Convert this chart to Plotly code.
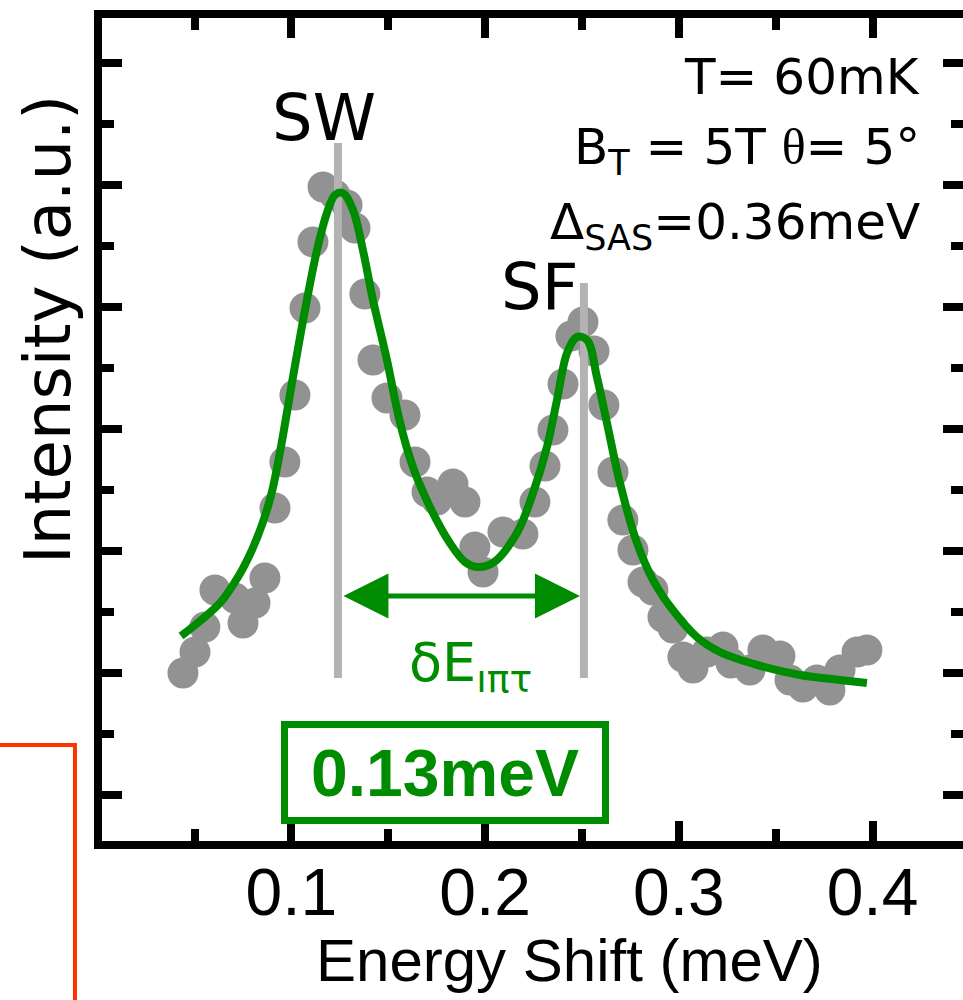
import plotly.graph_objects as go

# ---------------- data ----------------
energy = [0.0440, 0.0502, 0.0553, 0.0605, 0.0708, 0.0750, 0.0812, 0.0863, 0.0915, 0.0966,
          0.1018, 0.1070, 0.1111, 0.1163, 0.1225, 0.1287, 0.1328, 0.1379, 0.1421, 0.1493,
          0.1586, 0.1638, 0.1700, 0.1751, 0.1834, 0.1896, 0.1947, 0.1989, 0.2092, 0.2195,
          0.2257, 0.2309, 0.2350, 0.2402, 0.2443, 0.2505, 0.2562, 0.2613, 0.2660, 0.2711,
          0.2763, 0.2815, 0.2866, 0.2918, 0.2970, 0.3021, 0.3073, 0.3145, 0.3228, 0.3269,
          0.3367, 0.3434, 0.3522, 0.3574, 0.3641, 0.3713, 0.3780, 0.3832, 0.3920, 0.3971]
intensity = [1.000, 1.172, 1.377, 1.680, 1.615, 1.410, 1.574, 1.779, 2.352, 2.730,
             3.279, 3.992, 4.533, 4.984, 4.918, 4.836, 4.648, 4.107, 3.566, 3.254,
             3.115, 2.730, 2.484, 2.418, 2.549, 2.402, 2.033, 1.828, 2.156, 2.139,
             2.402, 2.697, 2.992, 3.369, 3.762, 3.877, 3.639, 3.197, 2.648, 2.254,
             2.008, 1.746, 1.680, 1.459, 1.369, 1.131, 1.041, 1.172, 1.213, 1.082,
             1.025, 1.189, 1.139, 0.943, 0.885, 0.943, 0.861, 1.025, 1.172, 1.189]

fit_energy = [0.0430, 0.0528, 0.0631, 0.0724, 0.0796, 0.0853, 0.0899, 0.0941, 0.1008, 0.1070,
              0.1132, 0.1183, 0.1225, 0.1266, 0.1318, 0.1369, 0.1421, 0.1493, 0.1560, 0.1627,
              0.1715, 0.1818, 0.1896, 0.1958, 0.2040, 0.2164, 0.2247, 0.2319, 0.2371, 0.2423,
              0.2474, 0.2526, 0.2577, 0.2629, 0.2696, 0.2784, 0.2867, 0.2969, 0.3093, 0.3212,
              0.3403, 0.3625, 0.3832, 0.3971]
fit_intensity = [1.303, 1.426, 1.574, 1.787, 2.008, 2.238, 2.484, 2.811, 3.426, 3.975,
                 4.467, 4.770, 4.918, 4.934, 4.795, 4.467, 4.057, 3.566, 3.057, 2.689,
                 2.361, 2.066, 1.910, 1.869, 1.902, 2.148, 2.475, 2.852, 3.238, 3.623,
                 3.754, 3.730, 3.426, 3.049, 2.557, 2.066, 1.762, 1.516, 1.295, 1.172,
                 1.066, 0.984, 0.943, 0.918]

peak_labels = ["SW", "SF"]
peak_energy = [0.1240, 0.2510]
peak_line_top = [5.344, 4.197]
peak_line_bottom = 0.959
splitting_text = "0.13meV"

x_tickvals = [0.1, 0.2, 0.3, 0.4]
x_ticktext = ["0.1", "0.2", "0.3", "0.4"]
x_minor = [0.05, 0.15, 0.25, 0.35]
y_tickvals = [0, 1, 2, 3, 4, 5, 6]
y_minor = [0.5, 1.5, 2.5, 3.5, 4.5, 5.5]

GREEN = "#008c00"
DOT = "#929292"
PEAKLINE = "#b3b3b3"
TXT_FONT = "DejaVu Sans, Liberation Sans, sans-serif"
ARIAL = "Liberation Sans, Arial, sans-serif"

fig = go.Figure()
fig.add_trace(go.Scatter(x=energy, y=intensity, mode="markers",
                         marker=dict(size=31, color=DOT, line=dict(width=0)),
                         showlegend=False, hoverinfo="skip"))
for pe, top in zip(peak_energy, peak_line_top):
    fig.add_trace(go.Scatter(x=[pe, pe], y=[peak_line_bottom, top], mode="lines",
                             line=dict(color=PEAKLINE, width=8),
                             showlegend=False, hoverinfo="skip"))
fig.add_trace(go.Scatter(x=fit_energy, y=fit_intensity, mode="lines",
                         line=dict(color=GREEN, width=8, shape="spline", smoothing=1.0),
                         showlegend=False, hoverinfo="skip"))

axis_common = dict(showline=True, linecolor="black", linewidth=8, mirror="ticks",
                   ticks="inside", ticklen=20, tickwidth=8, tickcolor="black",
                   showgrid=False, zeroline=False, automargin=False)

fig.update_xaxes(range=[0.0022, 0.4467], tickmode="array", tickvals=x_tickvals,
                 ticktext=x_ticktext, ticklabelstandoff=-13,
                 tickfont=dict(family=ARIAL, size=66, color="black"),
                 minor=dict(ticks="inside", ticklen=12, tickwidth=8, tickcolor="black",
                            tickmode="array", tickvals=x_minor),
                 **axis_common)
fig.update_yaxes(range=[-0.377, 6.369], tickmode="array", tickvals=y_tickvals,
                 showticklabels=False,
                 minor=dict(ticks="inside", ticklen=12, tickwidth=8, tickcolor="black",
                            tickmode="array", tickvals=y_minor),
                 **axis_common)

annotations = []
# double arrow between the peaks
annotations.append(dict(x=peak_energy[1], y=1.631, ax=peak_energy[0], ay=1.631,
                        xref="x", yref="y", axref="x", ayref="y", text="",
                        showarrow=True, arrowside="end+start", arrowhead=2,
                        startarrowhead=2, arrowsize=1.8, startarrowsize=1.8,
                        arrowwidth=5, arrowcolor=GREEN, standoff=4, startstandoff=4))
# peak labels
annotations.append(dict(x=0.1168, y=5.549, xref="x", yref="y", text=peak_labels[0],
                        xanchor="center", yanchor="middle", showarrow=False,
                        font=dict(family=TXT_FONT, size=64, color="black")))
annotations.append(dict(x=0.2283, y=4.164, xref="x", yref="y", text=peak_labels[1],
                        xanchor="center", yanchor="middle", showarrow=False,
                        font=dict(family=TXT_FONT, size=64, color="black")))
# conditions text
cond = ["T= 60mK",
        "B<sub>T</sub> = 5T <span style=\"font-family:Liberation Serif\">θ</span>= 5°",
        "Δ<sub>SAS</sub>=0.36meV"]
cond_y = [5.885, 5.287, 4.672]
for t, yy in zip(cond, cond_y):
    annotations.append(dict(x=0.4255, y=yy, xref="x", yref="y", text=t,
                            xanchor="right", yanchor="middle", showarrow=False,
                            font=dict(family=TXT_FONT, size=50, color="black")))
# delta E label
annotations.append(dict(x=0.1925, y=1.060, xref="x", yref="y",
                        text="δE<sub>ıπτ</sub>", xanchor="center", yanchor="middle",
                        showarrow=False, font=dict(family=TXT_FONT, size=54, color=GREEN)))
# boxed value
annotations.append(dict(x=0.1792, y=0.1885, xref="x", yref="y", text=splitting_text,
                        xanchor="center", yanchor="middle",
                        showarrow=False, width=306, height=81, borderpad=4,
                        bordercolor=GREEN, borderwidth=7,
                        font=dict(family=ARIAL, size=66, color=GREEN, weight="bold")))
# axis titles
annotations.append(dict(x=0.5424, y=-0.1450, xref="paper", yref="paper",
                        xanchor="center", yanchor="middle",
                        text="Energy Shift (meV)", showarrow=False,
                        font=dict(family=ARIAL, size=60, color="black")))
annotations.append(dict(x=-0.0627, y=0.6209, xref="paper", yref="paper",
                        xanchor="center", yanchor="middle",
                        text="Intensity (a.u.)", textangle=-90, showarrow=False,
                        font=dict(family=TXT_FONT, size=64, color="black")))

shapes = [dict(type="path", xref="paper", yref="paper",
               path="M -0.1185,0.1166 L -0.0314,0.1166 L -0.0314,-0.1932",
               line=dict(color="#ff3300", width=4))]

fig.update_layout(width=963, height=1000,
                  margin=dict(l=102, r=0, t=18, b=159, autoexpand=False),
                  plot_bgcolor="white", paper_bgcolor="white",
                  showlegend=False, annotations=annotations, shapes=shapes)

fig.write_html("out.html")
